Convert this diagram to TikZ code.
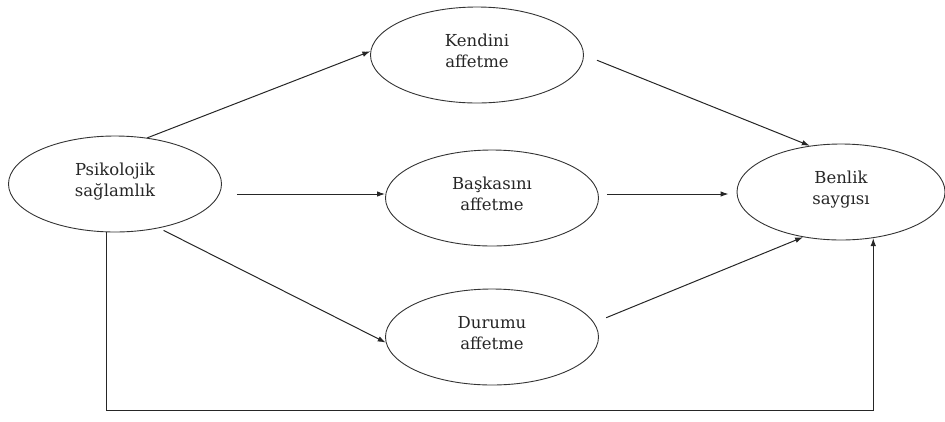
\documentclass[tikz,border=0pt]{standalone}
\usepackage{fontspec}
\setmainfont{DejaVu Serif}
\usetikzlibrary{shapes.geometric,arrows.meta}
\begin{document}
\begin{tikzpicture}[x=1pt,y=-1pt,
  oval/.style={draw=black!80,line width=0.9pt,ellipse,minimum width=213pt,minimum height=96pt,inner sep=0pt,
    align=center,font=\fontsize{16.5}{21}\selectfont,text=black!85},
  conn/.style={draw=black!85,line width=1pt,-{Latex[length=8pt,width=5.5pt]}}]
\useasboundingbox (0,0) rectangle (945,421);
\node[oval] (psik) at (115,184) {Psikolojik\\sağlamlık\rule[-8pt]{0pt}{1pt}};
\node[oval] (kend) at (477,55) {Kendini\\affetme\rule[-8pt]{0pt}{1pt}};
\node[oval] (bask) at (492,198) {Başkasını\\affetme\rule[-8pt]{0pt}{1pt}};
\node[oval] (dur) at (492,337) {Durumu\\affetme\rule[-8pt]{0pt}{1pt}};
\node[oval,minimum width=208pt] (ben) at (841,192) {Benlik\\saygısı\rule[-8pt]{0pt}{1pt}};
\coordinate (bl) at (0,410);
\draw[conn] (psik.55) -- (kend.178);
\draw[conn,shorten <=15pt] (psik.east |- 0,194) -- (bask.west |- 0,194);
\draw[conn,shorten <=5pt] (psik.-45) -- (dur.183);
\draw[conn,shorten <=14pt] (kend.0) -- (ben.124);
\draw[conn,shorten <=8pt,shorten >=8pt] (bask.east |- 0,194) -- (ben.west |- 0,194);
\draw[conn,shorten <=13pt] (dur.8) -- (ben.230);
\draw[conn] (psik.-100) -- (psik.-100 |- bl) -| (ben.-55);
\end{tikzpicture}
\end{document}
